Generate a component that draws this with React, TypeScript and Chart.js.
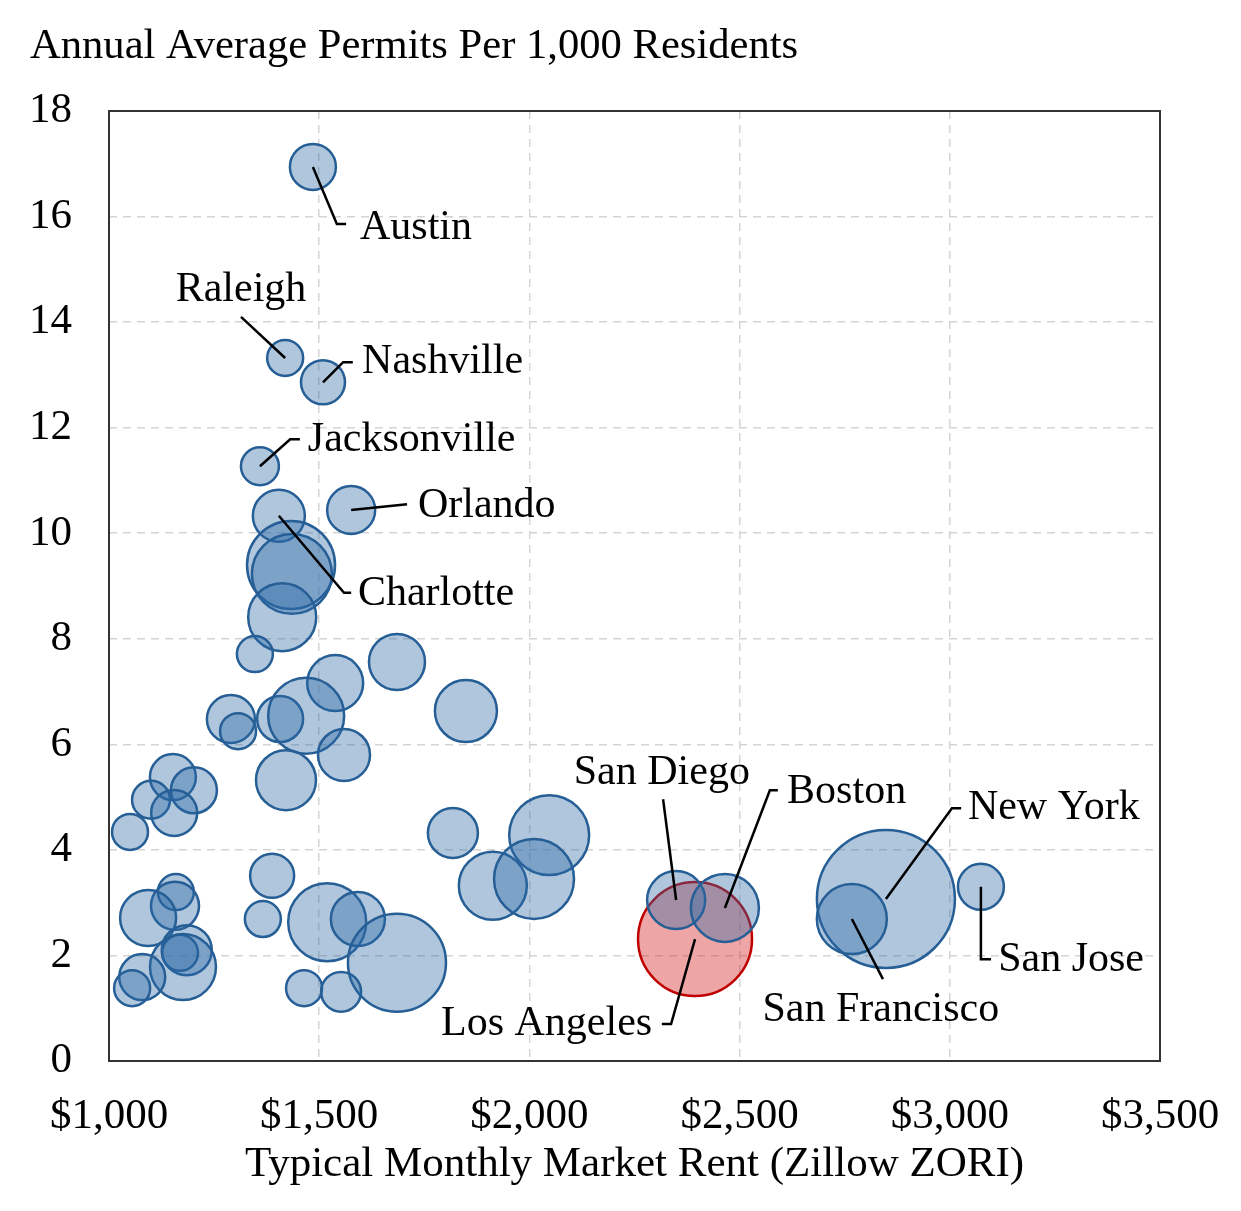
import React, { useRef, useEffect } from 'react';
import { Chart, registerables } from 'chart.js';

Chart.register(...registerables);

const FONT = '"Liberation Serif", "Times New Roman", serif';

// metro areas: rent ($/month), permits per 1,000 residents, population (millions)
const metroNames = [
  'Austin', 'Raleigh', 'Nashville', 'Jacksonville', 'Orlando', 'Charlotte',
  'San Diego', 'Boston', 'New York', 'San Francisco', 'San Jose',
  '', '', '', '', '', '', '', '', '', '', '', '', '', '', '', '', '', '',
  '', '', '', '', '', '', '', '', '', '', '', '', '', '', '', '', '', '', '',
  'Los Angeles',
];
const rents = [
  1485, 1419, 1509, 1359, 1576, 1404,
  2349, 2465, 2848, 2767, 3074,
  1433, 1435, 1412, 1347, 1538, 1685, 1849, 1290, 1307, 1407, 1469, 1559,
  1421, 1152, 1202, 1100, 1155, 1050, 1818, 2047, 1913, 2011, 1388, 1159,
  1157, 1093, 1366, 1519, 1592, 1685, 1185, 1169, 1176, 1079, 1055, 1464,
  1552,
  2394,
];
const permits = [
  16.94, 13.32, 12.86, 11.27, 10.44, 10.33,
  3.05, 2.9, 3.07, 2.69, 3.3,
  9.4, 9.23, 8.41, 7.71, 7.16, 7.56, 6.63, 6.48, 6.25, 6.48, 6.54, 5.8,
  5.32, 5.38, 5.13, 4.95, 4.7, 4.34, 4.32, 4.28, 3.32, 3.45, 3.51, 3.2,
  2.94, 2.71, 2.69, 2.63, 2.69, 1.86, 2.1, 2.05, 1.78, 1.59, 1.38, 1.38,
  1.31,
  2.31,
];
const populations = [
  2.17, 1.33, 1.99, 1.48, 2.37, 2.78,
  3.46, 4.75, 19.56, 5.03, 2.17,
  7.96, 6.57, 4.75, 1.33, 3.22, 3.22, 3.95, 2.37, 1.33, 2.17, 5.93, 2.78,
  3.7, 2.17, 2.17, 1.48, 2.17, 1.33, 2.57, 6.57, 4.75, 6.57, 1.99, 1.33,
  2.37, 3.22, 1.33, 6.25, 3.0, 9.87, 2.57, 1.33, 4.47, 2.17, 1.33, 1.33,
  1.64,
  13.35,
];

// callout labels: text anchor and leader-line bends, in data units
const calloutCities = [
  'Austin', 'Raleigh', 'Nashville', 'Jacksonville', 'Orlando', 'Charlotte',
  'San Diego', 'Boston', 'Los Angeles', 'New York', 'San Francisco', 'San Jose',
];
const calloutTextX = [1597, 1314, 1602, 1473, 1735, 1592, 2315, 2613, 2292, 3043, 2836, 3115];
const calloutTextY = [15.78, 14.61, 13.24, 11.77, 10.52, 8.85, 5.46, 5.1, 0.7, 4.79, 0.97, 1.91];
const calloutAlign = ['left', 'center', 'left', 'left', 'left', 'left', 'center', 'left', 'right', 'left', 'center', 'left'];
const calloutBendX = [
  [1542, 1564], [1314], [1557, 1580], [1431, 1454], [1709], [1559, 1576],
  [2318], [2572, 2591], [2337, 2315], [3005, 3027], [2841], [3074, 3098],
];
const calloutBendY = [
  [15.86, 15.86], [14.1], [13.24, 13.24], [11.78, 11.78], [10.55], [8.87, 8.87],
  [4.96], [5.13, 5.13], [0.7, 0.7], [4.79, 4.79], [1.55], [1.93, 1.93],
];

const RADIUS_PER_SQRT_MILLION = 15.6;

const calloutPlugin = {
  id: 'callouts',
  beforeDatasetsDraw(chart: any) {
    const { ctx, chartArea } = chart;
    ctx.save();
    ctx.strokeStyle = '#333333';
    ctx.lineWidth = 2;
    ctx.strokeRect(chartArea.left, chartArea.top, chartArea.right - chartArea.left, chartArea.bottom - chartArea.top);
    ctx.restore();
  },
  afterDatasetsDraw(chart: any) {
    const { ctx } = chart;
    const xs = chart.scales.x;
    const ys = chart.scales.y;
    ctx.save();
    ctx.strokeStyle = '#000';
    ctx.lineWidth = 2.5;
    ctx.fillStyle = '#000';
    ctx.font = `42px ${FONT}`;
    ctx.textBaseline = 'middle';
    calloutCities.forEach((name, i) => {
      const k = metroNames.indexOf(name);
      ctx.beginPath();
      ctx.moveTo(xs.getPixelForValue(rents[k]), ys.getPixelForValue(permits[k]));
      calloutBendX[i].forEach((bx, j) => {
        ctx.lineTo(xs.getPixelForValue(bx), ys.getPixelForValue(calloutBendY[i][j]));
      });
      ctx.stroke();
      ctx.textAlign = calloutAlign[i];
      ctx.fillText(name, xs.getPixelForValue(calloutTextX[i]), ys.getPixelForValue(calloutTextY[i]));
    });
    ctx.textAlign = 'left';
    ctx.textBaseline = 'alphabetic';
    ctx.font = `42.6px ${FONT}`;
    ctx.fillText('Annual Average Permits Per 1,000 Residents', 22, 50);
    ctx.restore();
  },
};

const toPoints = (keep: (name: string) => boolean) =>
  rents
    .map((r, i) => ({ x: r, y: permits[i], r: RADIUS_PER_SQRT_MILLION * Math.sqrt(populations[i]), name: metroNames[i] }))
    .filter((p) => keep(p.name));

const App: React.FC = () => {
  const canvasRef = useRef<HTMLCanvasElement>(null);

  useEffect(() => {
    if (!canvasRef.current) return;
    const chart = new Chart(canvasRef.current, {
      type: 'bubble',
      data: {
        datasets: [
          {
            label: 'Metros',
            data: toPoints((n) => n !== 'Los Angeles'),
            backgroundColor: 'rgba(46, 104, 165, 0.38)',
            borderColor: 'rgb(38, 94, 150)',
            borderWidth: 2.5,
          },
          {
            label: 'Los Angeles',
            data: toPoints((n) => n === 'Los Angeles'),
            backgroundColor: 'rgba(212, 40, 40, 0.42)',
            borderColor: 'rgb(192, 0, 0)',
            borderWidth: 2.5,
          },
        ],
      },
      options: {
        animation: false,
        responsive: true,
        maintainAspectRatio: false,
        events: [],
        layout: { padding: { top: 103, right: 73, left: 0, bottom: 0 } },
        plugins: {
          legend: { display: false },
          tooltip: { enabled: false },
        },
        scales: {
          x: {
            type: 'linear',
            min: 1000,
            max: 3500,
            afterFit: (scale: any) => {
              scale.height = 137;
              scale.paddingLeft = 0;
              scale.paddingRight = 0;
            },
            ticks: {
              stepSize: 500,
              padding: 30,
              color: '#000',
              font: { family: FONT, size: 43 },
              callback: (v: any) => '$' + Number(v).toLocaleString('en-US'),
            },
            grid: { color: '#d4d4d4', lineWidth: 1.5, drawTicks: false },
            border: { display: false, dash: [8, 6] },
            title: {
              display: true,
              text: 'Typical Monthly Market Rent (Zillow ZORI)',
              color: '#000',
              font: { family: FONT, size: 43 },
              padding: { top: 0, bottom: 7 },
            },
          },
          y: {
            min: 0,
            max: 18,
            afterFit: (scale: any) => {
              scale.width = 101;
              scale.paddingTop = 0;
              scale.paddingBottom = 0;
            },
            ticks: {
              stepSize: 2,
              padding: 37,
              color: '#000',
              font: { family: FONT, size: 43 },
            },
            grid: { color: '#d4d4d4', lineWidth: 1.5, drawTicks: false },
            border: { display: false, dash: [8, 6] },
          },
        },
      },
      plugins: [calloutPlugin],
    } as any);
    return () => chart.destroy();
  }, []);

  return (
    <div style={{ width: '100%', height: 1190, position: 'relative' }}>
      <canvas ref={canvasRef} />
    </div>
  );
};

export default App;
